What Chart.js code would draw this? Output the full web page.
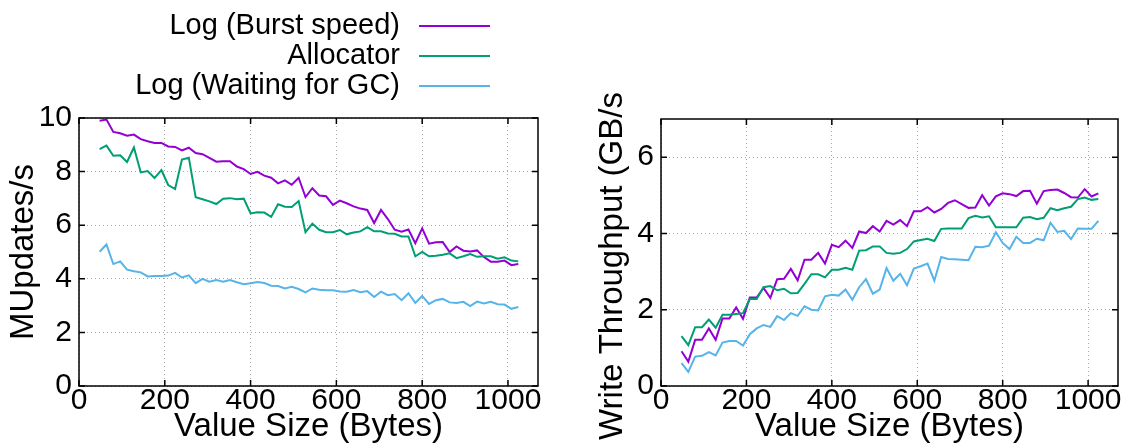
<!DOCTYPE html>
<html>
<head>
<meta charset="utf-8">
<script src="https://cdn.jsdelivr.net/npm/chart.js@4.4.1/dist/chart.umd.min.js"></script>
<style>
  body { margin: 0; background: #fff; width: 1132px; height: 448px; overflow: hidden; position: relative; }
  canvas { position: absolute; top: 0; }
  #left { left: 0; }
  #right { left: 580px; }
</style>
</head>
<body>
<canvas id="left" width="560" height="448"></canvas>
<canvas id="right" width="552" height="448"></canvas>
<script>
// value sizes (bytes) on the x axis
const sizes = [48, 64, 80, 96, 112, 128, 144, 160, 176, 192, 208, 224, 240, 256, 272, 288,
  304, 320, 336, 352, 368, 384, 400, 416, 432, 448, 464, 480, 496, 512, 528, 544,
  560, 576, 592, 608, 624, 640, 656, 672, 688, 704, 720, 736, 752, 768, 784, 800,
  816, 832, 848, 864, 880, 896, 912, 928, 944, 960, 976, 992, 1008, 1024];

const labels = ["Log (Burst speed)", "Allocator", "Log (Waiting for GC)"];
const colors = ["#9400d3", "#009e73", "#56b4e9"];

// left panel: MUpdates/s
const updBurst = [9.90, 9.94, 9.48, 9.43, 9.34, 9.38, 9.21, 9.13, 9.07, 9.07, 8.94, 8.92, 8.79, 8.89, 8.69, 8.65,
  8.51, 8.37, 8.39, 8.39, 8.19, 8.09, 7.91, 7.99, 7.85, 7.77, 7.56, 7.67, 7.51, 7.77, 7.05, 7.38,
  7.11, 7.08, 6.76, 6.92, 6.82, 6.70, 6.62, 6.57, 6.08, 6.57, 6.23, 5.83, 5.76, 5.84, 5.33, 5.88,
  5.31, 5.36, 5.37, 5.00, 5.21, 5.05, 5.02, 5.06, 4.81, 4.64, 4.64, 4.68, 4.51, 4.55];
const updAlloc = [8.84, 8.97, 8.59, 8.61, 8.36, 8.90, 7.97, 8.02, 7.76, 8.06, 7.50, 7.35, 8.45, 8.52, 7.04, 6.97,
  6.89, 6.79, 6.99, 7.01, 6.97, 6.99, 6.44, 6.48, 6.47, 6.31, 6.78, 6.69, 6.68, 6.90, 5.74, 6.06,
  5.83, 5.74, 5.74, 5.82, 5.66, 5.73, 5.77, 5.93, 5.77, 5.77, 5.69, 5.68, 5.58, 5.58, 4.84, 5.00,
  4.84, 4.86, 4.90, 4.95, 4.77, 4.84, 4.92, 4.82, 4.84, 4.84, 4.75, 4.80, 4.68, 4.65];
const updGC = [5.01, 5.28, 4.55, 4.65, 4.34, 4.28, 4.24, 4.09, 4.10, 4.10, 4.12, 4.22, 4.05, 4.13, 3.84, 4.00,
  3.89, 3.95, 3.89, 3.95, 3.87, 3.80, 3.83, 3.88, 3.84, 3.74, 3.73, 3.64, 3.70, 3.62, 3.49, 3.64,
  3.59, 3.57, 3.57, 3.53, 3.52, 3.58, 3.50, 3.54, 3.32, 3.52, 3.39, 3.43, 3.20, 3.46, 3.10, 3.36,
  3.06, 3.20, 3.25, 3.12, 3.10, 3.14, 2.98, 3.15, 3.08, 3.14, 3.05, 3.04, 2.88, 2.95];

// right panel: write throughput GB/s
const tpBurst = [0.91, 0.64, 1.21, 1.21, 1.51, 1.21, 1.77, 1.77, 2.06, 1.76, 2.32, 2.32, 2.57, 2.31, 2.80, 2.81,
  3.07, 2.77, 3.31, 3.31, 3.49, 3.21, 3.70, 3.64, 3.81, 3.62, 4.05, 4.01, 4.19, 4.05, 4.33, 4.23,
  4.35, 4.19, 4.58, 4.58, 4.69, 4.55, 4.64, 4.80, 4.87, 4.77, 4.67, 4.68, 5.00, 4.73, 4.97, 5.05,
  5.03, 4.98, 5.11, 5.12, 4.78, 5.11, 5.14, 5.15, 5.06, 4.95, 4.94, 5.16, 4.97, 5.05];
const tpAlloc = [1.31, 1.07, 1.54, 1.54, 1.74, 1.53, 1.87, 1.87, 1.89, 1.91, 2.28, 2.28, 2.59, 2.62, 2.51, 2.55,
  2.43, 2.44, 2.68, 2.93, 2.93, 2.85, 3.05, 3.05, 3.10, 3.05, 3.55, 3.56, 3.66, 3.66, 3.49, 3.47,
  3.49, 3.59, 3.79, 3.83, 3.86, 3.80, 4.12, 4.13, 4.13, 4.13, 4.40, 4.46, 4.42, 4.45, 4.16, 4.16,
  4.16, 4.16, 4.41, 4.43, 4.37, 4.41, 4.66, 4.61, 4.66, 4.70, 4.90, 4.94, 4.88, 4.90];
const tpGC = [0.60, 0.37, 0.77, 0.79, 0.89, 0.80, 1.14, 1.18, 1.18, 1.06, 1.36, 1.51, 1.60, 1.55, 1.83, 1.73,
  1.91, 1.84, 2.09, 2.00, 1.98, 2.35, 2.39, 2.37, 2.53, 2.26, 2.59, 2.80, 2.42, 2.53, 3.09, 2.76,
  2.94, 2.64, 3.08, 3.14, 3.21, 2.76, 3.38, 3.33, 3.32, 3.31, 3.30, 3.65, 3.64, 3.68, 4.03, 3.75,
  3.59, 3.91, 3.75, 3.75, 3.86, 3.82, 4.28, 4.04, 4.07, 3.85, 4.13, 4.12, 4.12, 4.33];

const xTitle = "Value Size (Bytes)";
const leftTitle = "MUpdates/s";
const rightTitle = "Write Throughput (GB/s";

const FONT = "'Liberation Sans', Arial, sans-serif";
Chart.defaults.font.family = FONT;
Chart.defaults.color = "#000";

const pts = (ys) => sizes.map((s, i) => ({ x: s, y: ys[i] }));

const makeSets = (series) => series.map((ys, i) => ({
  label: labels[i],
  data: pts(ys),
  borderColor: colors[i],
  borderWidth: 2,
  pointRadius: 0,
  tension: 0,
  order: 3 - i
}));

// gnuplot style border with inward ticks
const frame = {
  id: "frame",
  afterDraw(chart) {
    const { ctx, chartArea: a, scales: { x, y } } = chart;
    ctx.save();
    ctx.strokeStyle = "#000";
    ctx.lineWidth = 1.5;
    ctx.beginPath();
    x.ticks.forEach(t => {
      const px = x.getPixelForValue(t.value);
      ctx.moveTo(px, a.bottom); ctx.lineTo(px, a.bottom - 6);
      ctx.moveTo(px, a.top); ctx.lineTo(px, a.top + 6);
    });
    y.ticks.forEach(t => {
      const py = y.getPixelForValue(t.value);
      ctx.moveTo(a.left, py); ctx.lineTo(a.left + 6, py);
      ctx.moveTo(a.right, py); ctx.lineTo(a.right - 6, py);
    });
    ctx.stroke();
    ctx.strokeRect(a.left, a.top, a.right - a.left, a.bottom - a.top);
    ctx.restore();
  }
};

// key placed above the left panel, text right aligned, sample on the right
const key = {
  id: "key",
  afterDraw(chart) {
    const ctx = chart.ctx;
    ctx.save();
    ctx.font = "29px " + FONT;
    ctx.textAlign = "right";
    ctx.textBaseline = "middle";
    ctx.lineWidth = 2;
    chart.data.datasets.forEach((ds, i) => {
      const yy = 26 + i * 30;
      ctx.fillStyle = "#000";
      ctx.fillText(ds.label, 400, yy);
      ctx.strokeStyle = ds.borderColor;
      ctx.beginPath();
      ctx.moveTo(419, yy); ctx.lineTo(490, yy);
      ctx.stroke();
    });
    ctx.restore();
  }
};

// right y label sits a little below the plot centre in the original
const sideTitle = {
  id: "sideTitle",
  afterDraw(chart) {
    const ctx = chart.ctx;
    ctx.save();
    ctx.translate(33, 266);
    ctx.rotate(-Math.PI / 2);
    ctx.font = "33px " + FONT;
    ctx.fillStyle = "#000";
    ctx.textAlign = "center";
    ctx.textBaseline = "middle";
    ctx.fillText(rightTitle, 0, 0);
    ctx.restore();
  }
};

function makeOptions(yTitle, yMax, axisW, pad) {
  return {
    responsive: false,
    animation: false,
    layout: { padding: pad },
    plugins: { legend: { display: false }, tooltip: { enabled: false } },
    scales: {
      x: {
        type: "linear",
        min: 0,
        max: 1070,
        afterFit: (s) => { s.height = 62; },
        ticks: { stepSize: 200, includeBounds: false, padding: 0, maxRotation: 0,
                 callback: (v) => String(v), font: { size: 30, lineHeight: 1 } },
        grid: { color: "#a8a8a8", lineWidth: 1, drawTicks: false },
        border: { display: false, dash: [1, 3] },
        title: { display: true, text: xTitle, font: { size: 33, lineHeight: 1 },
                 padding: { top: 0, bottom: 4.5 } }
      },
      y: {
        min: 0,
        max: yMax,
        afterFit: (s) => { s.width = axisW; },
        ticks: { stepSize: 2, includeBounds: false, padding: 7,
                 callback: (v) => String(v), font: { size: 30, lineHeight: 1 } },
        grid: { color: "#a8a8a8", lineWidth: 1, drawTicks: false },
        border: { display: false, dash: [1, 3] },
        title: { display: !!yTitle, text: yTitle, font: { size: 33, lineHeight: 1 },
                 padding: { top: 7.5, bottom: 0 } }
      }
    }
  };
}

new Chart(document.getElementById("left"), {
  type: "line",
  data: { datasets: makeSets([updBurst, updAlloc, updGC]) },
  options: makeOptions(leftTitle, 10, 79, { left: 0, top: 118, right: 22, bottom: 0 }),
  plugins: [frame, key]
});

new Chart(document.getElementById("right"), {
  type: "line",
  data: { datasets: makeSets([tpBurst, tpAlloc, tpGC]) },
  options: makeOptions("", 7, 81, { left: 0, top: 119, right: 14, bottom: 0 }),
  plugins: [frame, sideTitle]
});
</script>
</body>
</html>
